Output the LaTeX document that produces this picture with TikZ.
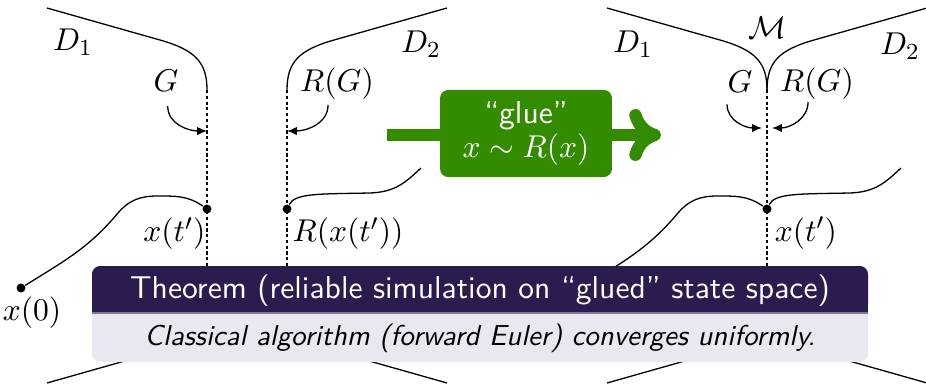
\documentclass[tikz,border=0pt,11pt]{standalone}
\usepackage{amsmath}
\usepackage{amssymb}
\usepackage{xcolor}
\usepackage{tikz}
\usetikzlibrary{
	arrows.meta,                % For Latex and Computer Modern tips
	positioning                 % For "below left=of node" syntax
}
\definecolor{glueGreen}{RGB}{51,140,0}
\definecolor{thmHead}{RGB}{44,27,78}
\definecolor{thmBody}{RGB}{233,231,239}
\tikzset{
	boundary/.style={
		line width=0.45pt
	},
	seam/.style={
		line width=0.45pt,
		dash pattern=on 1.1pt off 0.9pt
	},
	dot/.style={
		circle,
		fill=black,
		inner sep=0pt,
		minimum size=3.1pt
	},
	tag/.style={
		inner sep=1pt
	},
	pointer/.style={
		-{Latex[length=3.4pt,width=2.9pt]},
		line width=0.45pt
	},
	gluebox/.style={
		rectangle,
		fill=glueGreen,
		rounded corners=2.8pt,
		text=white,
		align=center,
		font=\sffamily,
		minimum width=59.6pt,
		minimum height=30.2pt
	},
	gluebar/.style={
		glueGreen,
		line width=4.3pt,
		-{Computer Modern Rightarrow[length=11pt,width=18pt,line width=4.3pt,round]}
	},
	thmtitle/.style={
		text=white,
		inner sep=0pt,
		font=\sffamily
	},
	thmtext/.style={
		inner sep=0pt,
		font=\sffamily\itshape\small
	}
}

\begin{document}
\begin{tikzpicture}[x=0.01219cm, y=-0.01219cm, >=Latex]
		\useasboundingbox (0,0) rectangle (926,383);

		% Left: the two domains D_1 and D_2 before gluing
		\draw [boundary] (47,8) -- (160,40) .. controls (195,50) and (207,62) .. (207,90);
		\draw [boundary] (447,8) -- (334,40) .. controls (299,50) and (287,62) .. (287,90);
		\draw [boundary] (47,383) -- (160,351) .. controls (195,341) and (207,329) .. (207,301);
		\draw [boundary] (447,383) -- (334,351) .. controls (299,341) and (287,329) .. (287,301);
		\draw [seam] (207,90) -- (207,301);
		\draw [seam] (287,90) -- (287,301);

		\node (D1a) at (73,42) {$D_1$};
		\node (D2a) at (421,44) {$D_2$};
		\node (Ga) at (166,81) {$G$};
		\node (RGa) at (337,84) {$R(G)$};

		\coordinate (ga) at (207,131);
		\coordinate (rga) at (287,131);
		\draw [pointer] ([xshift=0.6pt,yshift=-5pt]Ga.base) to[out=-90,in=180] (ga);
		\draw [pointer] ([xshift=-3.1pt,yshift=-4.5pt]RGa.base) to[out=-90,in=0] (rga);

		% Left: trajectory hitting G and restarting at R(x(t'))
		\node [dot] (x0) at (21,288) {};
		\node [dot] (xta) at (207,209) {};
		\node [dot] (Rxt) at (287,209) {};
		\coordinate (enda) at (421,168);
		\draw [boundary] (x0) to[out=32,in=-130] (118,213) to[out=50,in=180] (157,196) to[out=0,in=145] (xta);
		\draw [boundary] (Rxt) .. controls (295,193) and (320,194) .. (370,193) .. controls (395,192) and (405,183) .. (enda);

		\node [tag, below=0pt of x0, xshift=3.8pt] (x0lab) {$x(0)$};
		\node [tag, below left=0.5pt and -1.9pt of xta] (xtalab) {$x(t')$};
		\node [tag, below right=0.5pt and -0.5pt of Rxt] (Rxtlab) {$R(x(t'))$};

		% Middle: the gluing step
		\coordinate (glueIn) at (387,135);
		\coordinate (glueOut) at (661,135);
		\draw [gluebar] (glueIn) -- (glueOut);
		\node [gluebox] (glue) at (526,133.5) {``glue''\\[-2pt]$x\sim R(x)$};

		% Right: the glued state space M
		\draw [boundary] (607,8) -- (720,40) .. controls (755,50) and (767,62) .. (767,90);
		\draw [boundary] (927,8) -- (814,40) .. controls (779,50) and (767,62) .. (767,90);
		\draw [boundary] (607,383) -- (720,351) .. controls (755,341) and (767,329) .. (767,301);
		\draw [boundary] (927,383) -- (814,351) .. controls (779,341) and (767,329) .. (767,301);
		\draw [seam] (767,90) -- (767,301);

		\node (Mb) at (767,28) {$\mathcal{M}$};
		\node (D1b) at (633,44) {$D_1$};
		\node (D2b) at (900,46) {$D_2$};
		\node (Gb) at (740,82) {$G$};
		\node (RGb) at (817,84) {$R(G)$};

		\coordinate (gb) at (762,128);
		\coordinate (rgb) at (772,128);
		\draw [pointer] ([xshift=-4.5pt,yshift=-4pt]Gb.base) to[out=-90,in=180] (gb);
		\draw [pointer] ([xshift=-3.1pt,yshift=-3.5pt]RGb.base) to[out=-90,in=0] (rgb);

		\node [dot] (xtb) at (767,209) {};
		\coordinate (endb) at (901,168);
		\draw [boundary] (581,288) to[out=32,in=-130] (678,213) to[out=50,in=180] (717,196) to[out=0,in=145] (xtb);
		\draw [boundary] (xtb) .. controls (775,193) and (800,194) .. (850,193) .. controls (875,192) and (885,183) .. (endb);
		\node [tag, below right=0.3pt and 0.3pt of xtb] (xtblab) {$x(t')$};

		% Bottom: theorem block
		\fill [thmBody, rounded corners=2.8pt] (92,266) rectangle (868,362);
		\fill [thmHead, rounded corners=2.8pt] (92,266) rectangle (868,312);
		\fill [thmHead] (92,290) rectangle (868,312);
		\fill [thmHead!55!thmBody] (92,312) rectangle (868,314);
		\node [thmtitle, anchor=base] (thmh) at (480,298) {Theorem (reliable simulation on ``glued'' state space)};
		\node [thmtext, anchor=base] (thmb) at (480,345) {Classical algorithm (forward Euler) converges uniformly.};
	\end{tikzpicture}
\end{document}
